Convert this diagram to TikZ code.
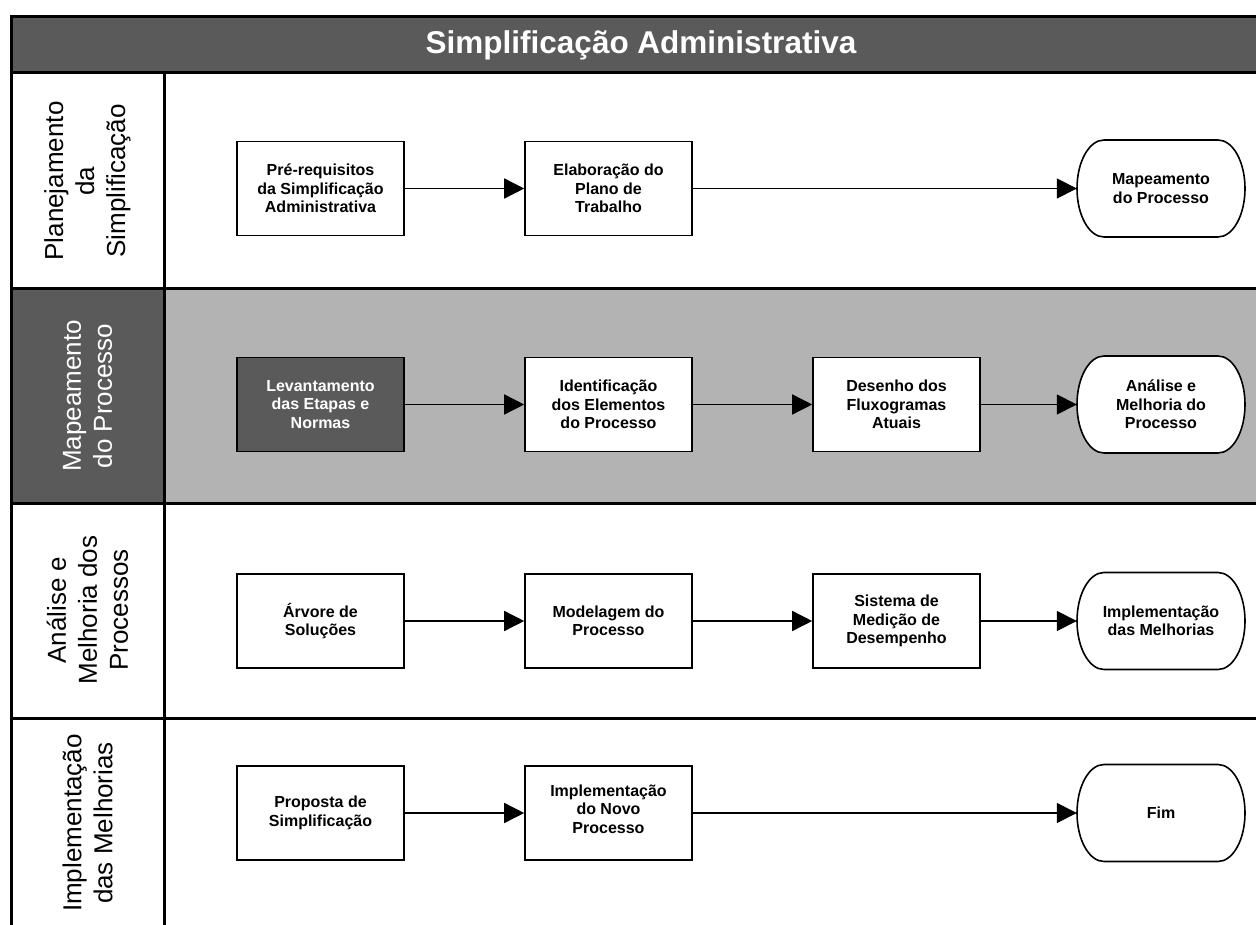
\documentclass[tikz,border=0pt]{standalone}
\usepackage{fontspec}
\setmainfont{Liberation Sans}
\usetikzlibrary{arrows.meta}
\definecolor{darkg}{HTML}{5A5A5A}
\definecolor{lightg}{HTML}{B3B3B3}
\tikzset{
  frameline/.style={line width=3pt},
  stepbox/.style={draw, line width=1.6pt, fill=white, minimum width=167pt, minimum height=94pt,
    inner sep=0pt, align=center, font=\bfseries\fontsize{16}{18.5}\selectfont},
  termbox/.style={minimum width=168pt, minimum height=97pt, inner sep=0pt, align=center,
    font=\bfseries\fontsize{16}{18.5}\selectfont},
  termline/.style={draw, line width=1.6pt, fill=white, line join=round},
  lanelabel/.style={rotate=90, align=center, font=\fontsize{26}{31}\selectfont},
  conn/.style={line width=1.5pt, -{Triangle[length=20pt,width=20pt]}},
}
\newcommand\mkterm[2]{%
  \path[termline] ([shift={(-57pt,48.5pt)}]#1.center) -- ([shift={(57pt,48.5pt)}]#1.center)
    arc[start angle=90, end angle=-90, x radius=27pt, y radius=48.5pt]
    -- ([shift={(-57pt,-48.5pt)}]#1.center)
    arc[start angle=270, end angle=90, x radius=27pt, y radius=48.5pt] -- cycle;
  \node[termbox] at (#1) {#2};}
\begin{document}
\begin{tikzpicture}[x=1pt,y=-1pt]
\useasboundingbox (0,0) rectangle (1256,925);
\clip (0,0) rectangle (1256,925);
% fills
\fill[darkg] (11,17) rectangle (1275,73);
\fill[darkg] (11,289) rectangle (164,503);
\fill[lightg] (164,289) rectangle (1275,503);
% frame lines
\draw[frameline] (11,17) -- (1275,17);
\draw[frameline] (11,73) -- (1275,73);
\draw[frameline] (11,289) -- (1275,289);
\draw[frameline] (11,503) -- (1275,503);
\draw[frameline] (11,718) -- (1275,718);
\draw[frameline] (11,15.5) -- (11,930);
\draw[frameline] (164,73) -- (164,930);
% header
\node[text=white, font=\bfseries\fontsize{31.5}{36}\selectfont] (title) at (641,45) {Simplificação Administrativa};
% lane labels
\node[lanelabel] (L1) at (87.5,181) {Planejamento\\da\\Simplificação};
\node[lanelabel, text=white] (L2) at (87.5,396) {Mapeamento\\do Processo};
\node[lanelabel] (L3) at (87.5,610) {Análise e\\Melhoria dos\\Processos};
\node[lanelabel] (L4) at (87.5,823) {Implementação\\das Melhorias};
% lane 1
\node[stepbox] (a1) at (320.5,188.5) {Pré-requisitos\\da Simplificação\\Administrativa};
\node[stepbox] (a2) at (608.5,188.5) {Elaboração do\\Plano de\\Trabalho};
\node[termbox] (a4) at (1161,188.5) {};
\mkterm{a4}{Mapeamento\\do Processo}
% lane 2
\node[stepbox, fill=darkg, text=white] (b1) at (320.5,404.5) {Levantamento\\das Etapas e\\Normas};
\node[stepbox] (b2) at (608.5,404.5) {Identificação\\dos Elementos\\do Processo};
\node[stepbox] (b3) at (896.5,404.5) {Desenho dos\\Fluxogramas\\Atuais};
\node[termbox] (b4) at (1161,404.5) {};
\mkterm{b4}{Análise e\\Melhoria do\\Processo}
% lane 3
\node[stepbox] (c1) at (320.5,621) {Árvore de\\Soluções};
\node[stepbox] (c2) at (608.5,621) {Modelagem do\\Processo};
\node[stepbox] (c3) at (896.5,621) {Sistema de\\Medição de\\Desempenho};
\node[termbox] (c4) at (1161,621) {};
\mkterm{c4}{Implementação\\das Melhorias}
% lane 4
\node[stepbox] (d1) at (320.5,813) {Proposta de\\Simplificação};
\node[stepbox, text depth=8pt] (d2) at (608.5,813) {Implementação\\do Novo\\Processo};
\node[termbox] (d4) at (1161,813) {};
\mkterm{d4}{Fim}
% connectors
\draw[conn] (a1) -- (a2);
\draw[conn] (a2) -- (a4);
\draw[conn] (b1) -- (b2);
\draw[conn] (b2) -- (b3);
\draw[conn] (b3) -- (b4);
\draw[conn] (c1) -- (c2);
\draw[conn] (c2) -- (c3);
\draw[conn] (c3) -- (c4);
\draw[conn] (d1) -- (d2);
\draw[conn] (d2) -- (d4);
\end{tikzpicture}
\end{document}
